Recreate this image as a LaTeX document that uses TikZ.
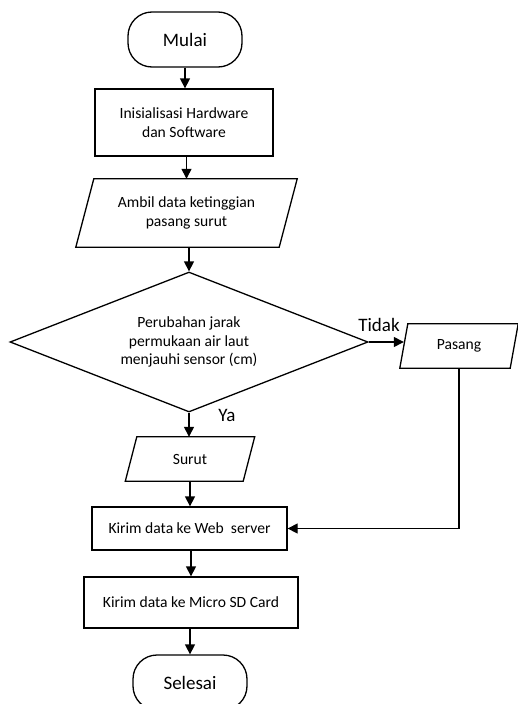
\documentclass[tikz,border=0pt]{standalone}
\usepackage{fontspec}
\setmainfont{Carlito}
\usetikzlibrary{shapes.geometric,arrows.meta}
\newcommand\ioshape[2]{\draw[line width=1.3pt] ([xshift=#2]#1.north west) -- ([xshift=#2]#1.north east) -- ([xshift=-#2]#1.south east) -- ([xshift=-#2]#1.south west) -- cycle;}
\begin{document}
\begin{tikzpicture}[x=1pt,y=-1pt,
 every node/.style={font=\fontsize{15.6}{18.5}\selectfont, align=center, inner sep=0pt},
 proc/.style={draw, line width=1.3pt, rectangle},
 term/.style={draw, line width=1.3pt, rectangle, rounded corners=24pt, minimum width=114pt, minimum height=55pt, font=\fontsize{19}{22}\selectfont},
 iobox/.style={rectangle},
 decision/.style={draw, diamond, line width=1.3pt, aspect=2.5},
 arr/.style={line width=1.3pt, -{Triangle[length=10pt,width=10pt]}},
 lbl/.style={font=\fontsize{19}{22}\selectfont},
]
\useasboundingbox (0,0) rectangle (518,704);
\begin{scope}
\clip (0,0) rectangle (518,704);
\node[term] (mulai) at (185,39.5) {Mulai};
\node[proc, minimum width=178pt, minimum height=67pt] (init) at (184,122.5) {Inisialisasi Hardware\\dan Software};
\node[iobox, minimum width=203pt, minimum height=68pt] (ambil) at (186.5,213) {Ambil data ketinggian\\pasang surut};
\ioshape{ambil}{9pt}
\node[decision, minimum width=358pt, minimum height=140pt] (dec) at (189,342) {Perubahan jarak\\permukaan air laut\\menjauhi sensor (cm)};
\node[iobox, minimum width=110pt, minimum height=44pt] (pasang) at (459,346) {Pasang};
\ioshape{pasang}{4pt}
\node[iobox, minimum width=117.5pt, minimum height=44pt] (surut) at (190,459) {Surut};
\ioshape{surut}{5.75pt}
\node[proc, minimum width=195pt, minimum height=43pt] (web) at (189.5,528.5) {Kirim data ke Web\ \ server};
\node[proc, minimum width=214pt, minimum height=51pt] (sd) at (191,602.5) {Kirim data ke Micro SD Card};
\node[term] (selesai) at (190,682.5) {Selesai};
\node[lbl] (tidak) at (379,325) {Tidak};
\node[lbl] (ya) at (227,415) {Ya};
\draw[arr] (mulai.south) -- (mulai.south |- init.north);
\draw[arr] (init.south -| ambil.south) -- (ambil.north);
\draw[arr] (dec.north |- ambil.south) -- (dec.north);
\draw[arr] (dec.east) -- (dec.east -| pasang.west);
\draw[arr] (dec.south) -- (dec.south |- surut.north);
\draw[arr] (surut.south) -- (surut.south |- web.north);
\draw[arr] (pasang.south) |- (web.east);
\draw[arr] (web.south -| sd.north) -- (sd.north);
\draw[arr] (sd.south -| selesai.north) -- (selesai.north);
\end{scope}
\end{tikzpicture}
\end{document}
